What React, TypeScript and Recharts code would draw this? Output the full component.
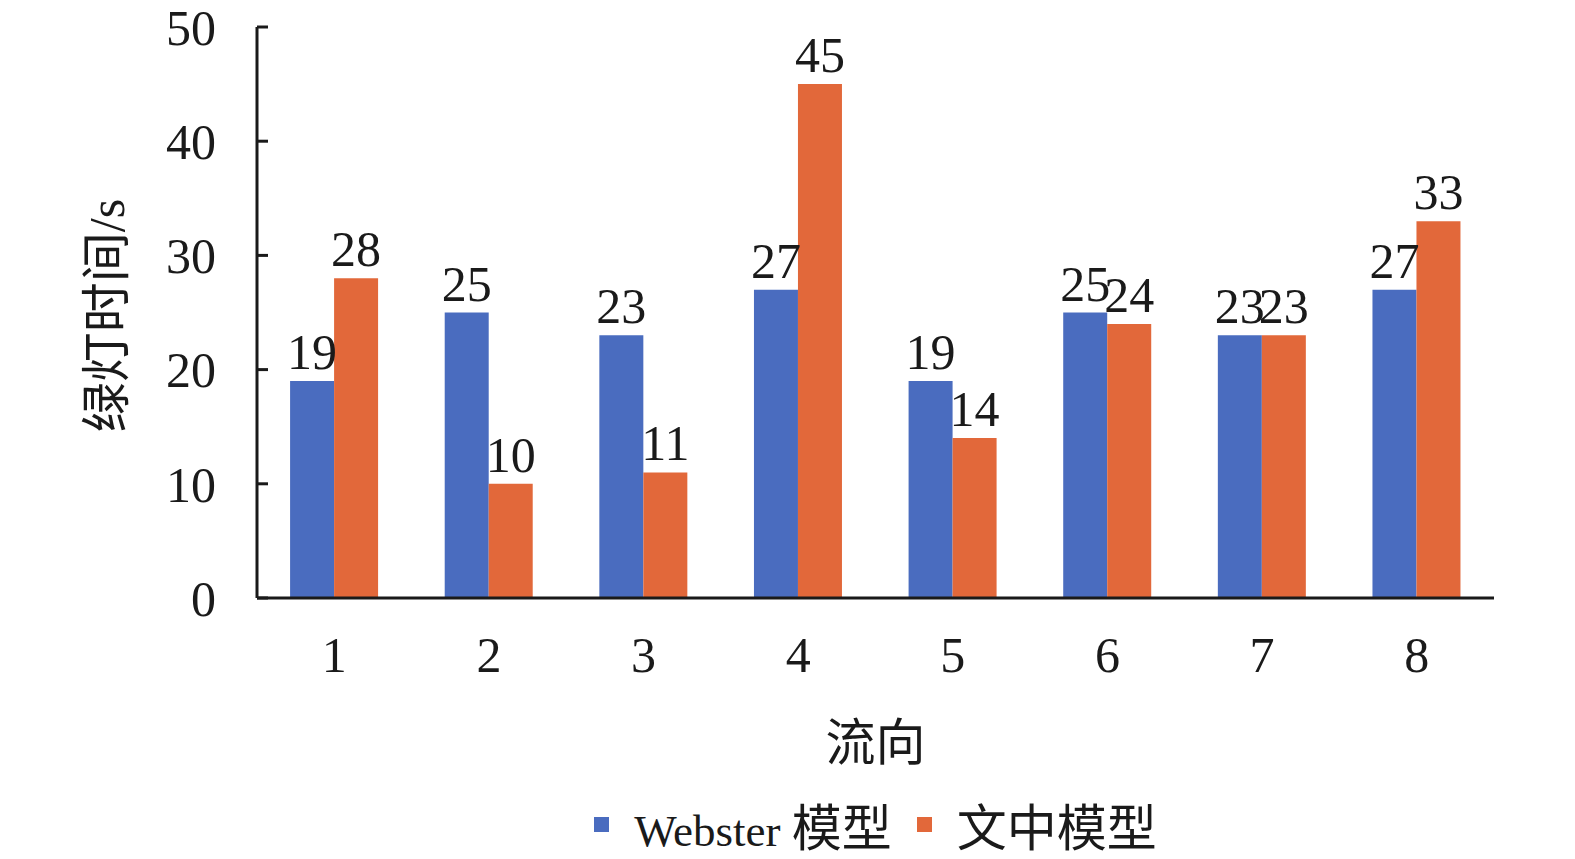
import { Bar, BarChart, LabelList, Legend, XAxis, YAxis } from "recharts";

const flows = ["1", "2", "3", "4", "5", "6", "7", "8"];
const webster = [19, 25, 23, 27, 19, 25, 23, 27];
const proposed = [28, 10, 11, 45, 14, 24, 23, 33];
const yTicks = [0, 10, 20, 30, 40, 50];

const seriesNames = ["Webster 模型", "文中模型"];
const colors = ["#4a6cbf", "#e2683a"];

const data = flows.map((flow, i) => ({
  flow,
  webster: webster[i],
  proposed: proposed[i],
}));

const font = '"Liberation Serif", "Times New Roman", "Noto Sans CJK SC", serif';
const ink = "#1a1a1a";

// CJK glyphs sit a bit bigger than the Latin ones in the legend
function legendText(name: string) {
  return name.split(/([\u4e00-\u9fff]+)/).map((part, j) =>
    /[\u4e00-\u9fff]/.test(part) ? (
      <span key={j} style={{ fontSize: 50 }}>{part}</span>
    ) : (
      <span key={j}>{part}</span>
    )
  );
}

function LegendBox() {
  return (
    <div
      style={{
        display: "flex",
        justifyContent: "center",
        alignItems: "center",
        fontFamily: font,
        fontSize: 45,
        color: ink,
        height: 70,
        paddingLeft: 257,
        boxSizing: "border-box",
        whiteSpace: "pre",
      }}
    >
      {seriesNames.map((name, i) => (
        <div key={name} style={{ display: "flex", alignItems: "center", marginRight: i === 0 ? 25 : 0 }}>
          <span style={{ width: 15, height: 15, background: colors[i], marginRight: 25, display: "inline-block" }} />
          <span>{legendText(name)}</span>
        </div>
      ))}
    </div>
  );
}

export default function App() {
  return (
    <div style={{ position: "absolute", left: 0, top: 0, width: 1575, height: 859, background: "#fff" }}>
      <BarChart
        width={1575}
        height={859}
        data={data}
        margin={{ top: 27, right: 81, left: 0, bottom: 0 }}
        barCategoryGap="21.4%"
        barGap={0}
      >
        <XAxis
          dataKey="flow"
          height={191}
          tickLine={false}
          tickSize={0}
          tickMargin={38}
          axisLine={{ stroke: ink, strokeWidth: 3 }}
          tick={{ fill: ink, fontSize: 50, fontFamily: font }}
          label={{
            value: "流向",
            position: "insideBottom",
            offset: 29,
            fill: ink,
            fontSize: 50,
            fontFamily: font,
          }}
        />
        <YAxis
          width={257}
          domain={[0, 50]}
          ticks={yTicks}
          interval={0}
          tickSize={-11}
          tickMargin={52}
          axisLine={{ stroke: ink, strokeWidth: 3 }}
          tickLine={{ stroke: ink, strokeWidth: 3 }}
          tick={{ fill: ink, fontSize: 50, fontFamily: font }}
          label={{
            value: "绿灯时间/s",
            angle: -90,
            position: "center",
            dx: -22,
            dy: 3,
            fill: ink,
            fontSize: 50,
            fontFamily: font,
          }}
        />
        <Legend verticalAlign="bottom" height={70} content={() => <LegendBox />} />
        <Bar dataKey="webster" name={seriesNames[0]} fill={colors[0]} isAnimationActive={false}>
          <LabelList dataKey="webster" position="top" offset={12} fill={ink} fontSize={50} fontFamily={font} />
        </Bar>
        <Bar dataKey="proposed" name={seriesNames[1]} fill={colors[1]} isAnimationActive={false}>
          <LabelList dataKey="proposed" position="top" offset={12} fill={ink} fontSize={50} fontFamily={font} />
        </Bar>
      </BarChart>
    </div>
  );
}
